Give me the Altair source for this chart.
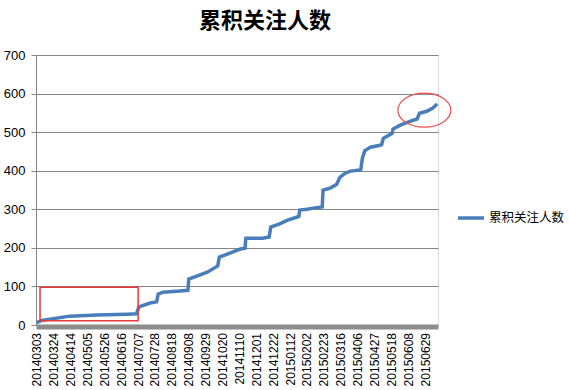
import altair as alt
import pandas as pd

title_text = "累积关注人数"
series_name = "累积关注人数"

dates = [
    "2014-03-03", "2014-03-09", "2014-03-19", "2014-04-13", "2014-05-17", "2014-06-23",
    "2014-07-05", "2014-07-08", "2014-07-22", "2014-07-30", "2014-08-01", "2014-08-07",
    "2014-08-28", "2014-09-07", "2014-09-08", "2014-09-18", "2014-10-01", "2014-10-14",
    "2014-10-16", "2014-10-26", "2014-11-11", "2014-11-17", "2014-11-18", "2014-11-26",
    "2014-12-09", "2014-12-17", "2014-12-19", "2014-12-30", "2015-01-09", "2015-01-21",
    "2015-01-23", "2015-01-24", "2015-02-02", "2015-02-10", "2015-02-21", "2015-02-22",
    "2015-03-03", "2015-03-11", "2015-03-15", "2015-03-21", "2015-03-28", "2015-04-09",
    "2015-04-10", "2015-04-12", "2015-04-15", "2015-04-18", "2015-04-22", "2015-05-04",
    "2015-05-06", "2015-05-08", "2015-05-19", "2015-05-20", "2015-05-29", "2015-06-10",
    "2015-06-19", "2015-06-22", "2015-07-01", "2015-07-08", "2015-07-14",
]
values = [
    6, 12, 15, 23, 26, 28,
    29, 47, 57, 60, 80, 85,
    88, 90, 119, 127, 137, 153,
    176, 184, 197, 199, 225, 225,
    225, 228, 254, 262, 272, 280,
    282, 298, 300, 303, 306, 350,
    355, 365, 383, 393, 399, 402,
    403, 433, 452, 456, 461, 466,
    468, 484, 497, 508, 518, 528,
    534, 549, 554, 562, 573,
]

tick_labels = [
    "20140303", "20140324", "20140414", "20140505", "20140526", "20140616",
    "20140707", "20140728", "20140818", "20140908", "20140929", "20141020",
    "20141110", "20141201", "20141222", "20150112", "20150202", "20150223",
    "20150316", "20150406", "20150427", "20150518", "20150608", "20150629",
]
y_ticks = [0, 100, 200, 300, 400, 500, 600, 700]

# annotations
box_start = ["2014-03-07"]
box_end = ["2014-07-07"]
box_low = [11]
box_high = [98]
ellipse_date = ["2015-06-28"]
ellipse_value = [557]

df = pd.DataFrame({"date": dates, "value": values, "series": series_name})
box_df = pd.DataFrame({"x": box_start, "x2": box_end, "y": box_low, "y2": box_high})
ell_df = pd.DataFrame({"x": ellipse_date, "y": ellipse_value})


def dt(s):
    return alt.DateTime(year=int(s[:4]), month=int(s[4:6]), date=int(s[6:8]), utc=True)


x_scale = alt.Scale(type="utc", domain=[dt("20140302"), dt("20150715")])
y_scale = alt.Scale(domain=[0, 700])

grey = "#868686"

line = alt.Chart(df).mark_line(strokeWidth=3.5).encode(
    x=alt.X(
        "date:T",
        scale=x_scale,
        axis=alt.Axis(
            title=None,
            values=[dt(t) for t in tick_labels],
            tickCount=100,
            format="%Y%m%d",
            labelAngle=270,
            labelAlign="right",
            labelBaseline="middle",
            labelFont="Liberation Sans",
            labelFontSize=12,
            labelColor="#000000",
            labelPadding=6,
            labelOverlap=False,
            labelFlush=False,
            ticks=False,
            tickSize=0,
            domainColor="#8c8c8c",
            domainWidth=5,
            domainCap="butt",
            offset=1.5,
            grid=False,
        ),
    ),
    y=alt.Y(
        "value:Q",
        scale=y_scale,
        axis=alt.Axis(
            title=None,
            values=y_ticks,
            tickCount=20,
            labelOverlap=False,
            labelFont="Liberation Sans",
            labelFontSize=13,
            labelColor="#000000",
            labelPadding=6,
            tickSize=5,
            tickColor=grey,
            domainColor=grey,
            gridColor=grey,
            grid=True,
        ),
    ),
    color=alt.Color(
        "series:N",
        scale=alt.Scale(range=["#4a7ebb"]),
        legend=alt.Legend(
            title=None,
            orient="none",
            legendX=420,
            legendY=148,
            symbolType="stroke",
            symbolSize=676,
            symbolStrokeWidth=3.5,
            labelFont="Noto Sans CJK SC",
            labelFontSize=12.5,
            labelColor="#000000",
            labelOffset=3,
        ),
    ),
)

box = alt.Chart(box_df).mark_rect(fill=None, stroke="#e83a3a", strokeWidth=1.5).encode(
    x="x:T", x2="x2:T", y="y:Q", y2="y2:Q"
)

ellipse = alt.Chart(ell_df).mark_point(
    shape="M-1,0A1,0.64,0,1,1,1,0A1,0.64,0,1,1,-1,0Z",
    size=2809,
    filled=False,
    stroke="#e85050",
    strokeWidth=1.2,
    opacity=1,
).encode(x="x:T", y="y:Q")

chart = (
    alt.layer(line, box, ellipse)
    .properties(
        width=402,
        height=270,
        autosize=alt.AutoSizeParams(type="none"),
        padding={"left": 36, "top": 55, "right": 131, "bottom": 65},
        title=alt.Title(
            title_text,
            font="Noto Sans CJK SC",
            fontSize=22,
            fontWeight="bold",
            color="#000000",
            anchor="middle",
            dx=28,
            offset=16,
        ),
    )
    .configure_view(stroke=None)
    .configure(background="white")
)

chart.save("out.html", embed_options={"renderer": "svg", "actions": False})
